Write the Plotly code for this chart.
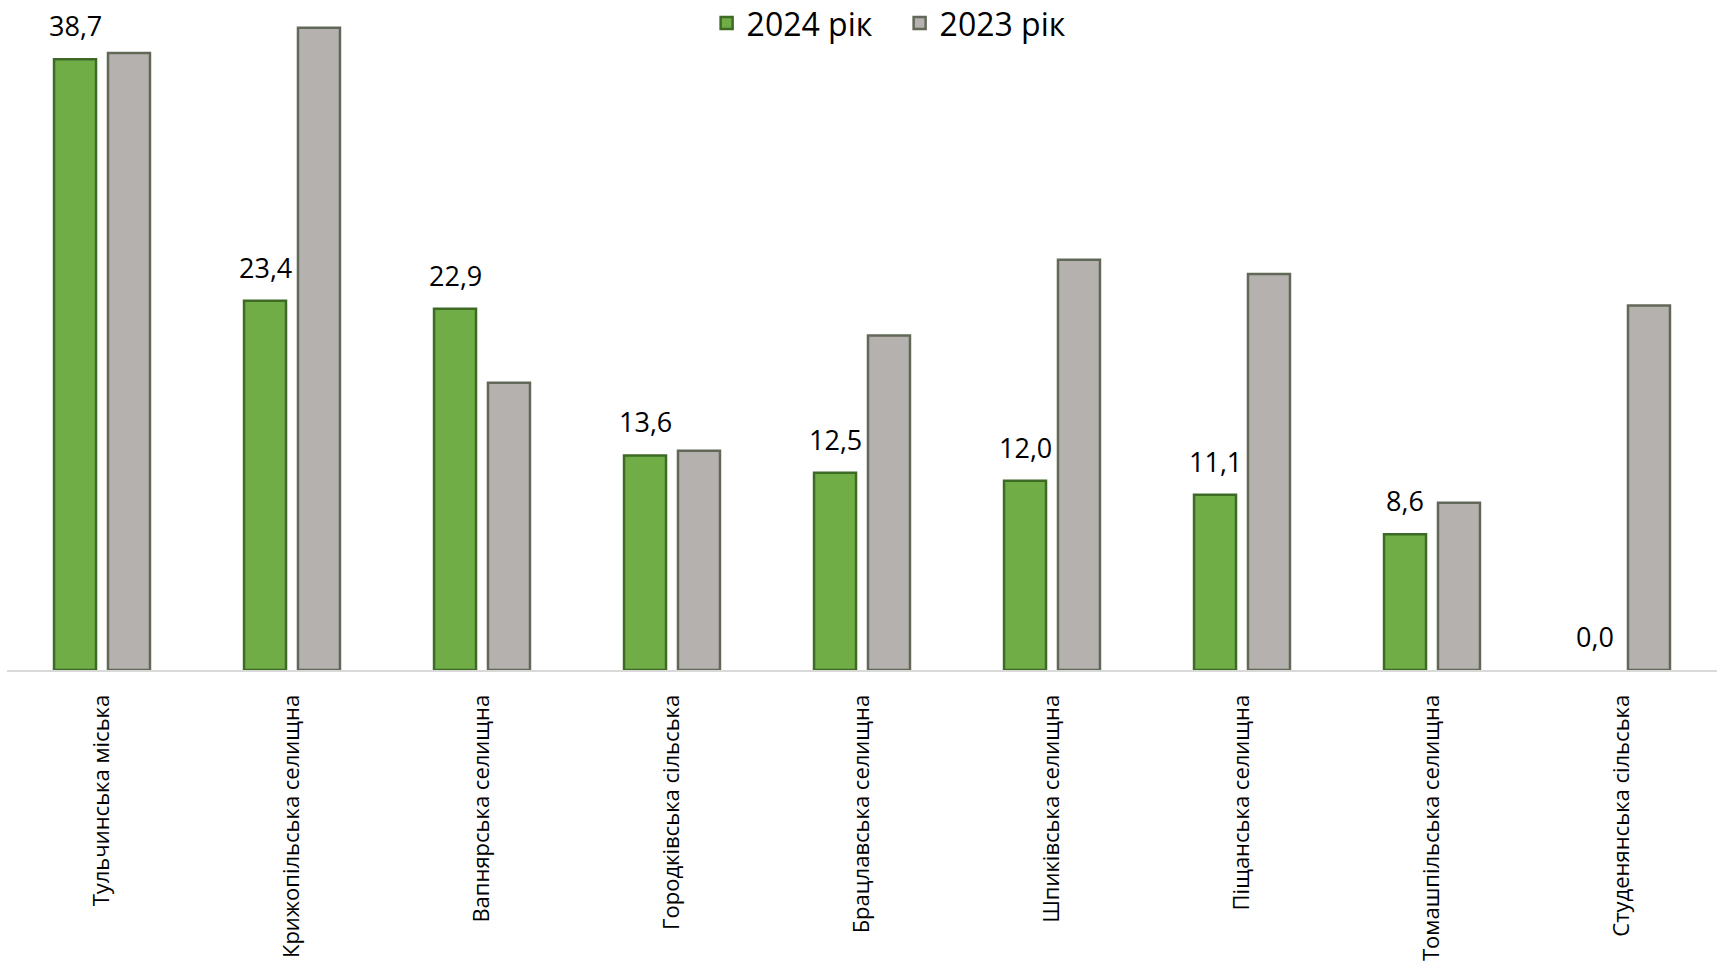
import plotly.graph_objects as go

categories = ["Тульчинська міська", "Крижопільська селищна", "Вапнярська селищна",
              "Городківська сільська", "Брацлавська селищна", "Шпиківська селищна",
              "Піщанська селищна", "Томашпільська селищна", "Студенянська сільська"]
values_2024 = [38.7, 23.4, 22.9, 13.6, 12.5, 12.0, 11.1, 8.6, 0.0]
values_2023 = [39.1, 40.7, 18.2, 13.9, 21.2, 26.0, 25.1, 10.6, 23.1]

FONT = "Open Sans, Lato, DejaVu Sans, sans-serif"

fig = go.Figure()
fig.add_trace(go.Bar(
    name="2024 рік", x=categories, y=values_2024,
    marker=dict(color="#70ad47",
                line=dict(color="#3d6b26", width=[0 if v == 0 else 2.5 for v in values_2024])),
))
fig.add_trace(go.Bar(
    name="2023 рік", x=categories, y=values_2023,
    marker=dict(color="#b5b1ae", line=dict(color="#626858", width=2.5)),
))

annotations = []
for c, v in zip(categories, values_2024):
    annotations.append(dict(
        x=c, y=v, xref="x", yref="y", text=f"{v:.1f}".replace(".", ","),
        showarrow=False, xshift=-27, yshift=13, yanchor="bottom",
        font=dict(family=FONT, size=27, color="#000000"),
    ))

fig.update_layout(
    width=1723, height=964,
    margin=dict(l=7, r=6, t=20, b=294, autoexpand=False),
    paper_bgcolor="white", plot_bgcolor="white",
    barmode="group", bargap=0.432, bargroupgap=0.222,
    font=dict(family=FONT, color="#000000"),
    showlegend=True,
    legend=dict(orientation="h", x=0.522, xanchor="center", y=0.995, yanchor="middle",
                font=dict(family=FONT, size=32, color="#000000"),
                bgcolor="rgba(0,0,0,0)", entrywidth=148, traceorder="normal"),
    annotations=annotations,
    xaxis=dict(showline=True, linecolor="#d9d9d9", linewidth=2, showgrid=False,
               tickangle=-90, ticks="", ticklabelstandoff=14, automargin=False,
               tickfont=dict(family=FONT, size=22, color="#000000")),
    yaxis=dict(range=[0, 41.19], visible=False, showgrid=False, zeroline=False,
               automargin=False),
)

fig.write_html("out.html", config={"displayModeBar": False},
               post_script="document.body.style.margin='0';")
